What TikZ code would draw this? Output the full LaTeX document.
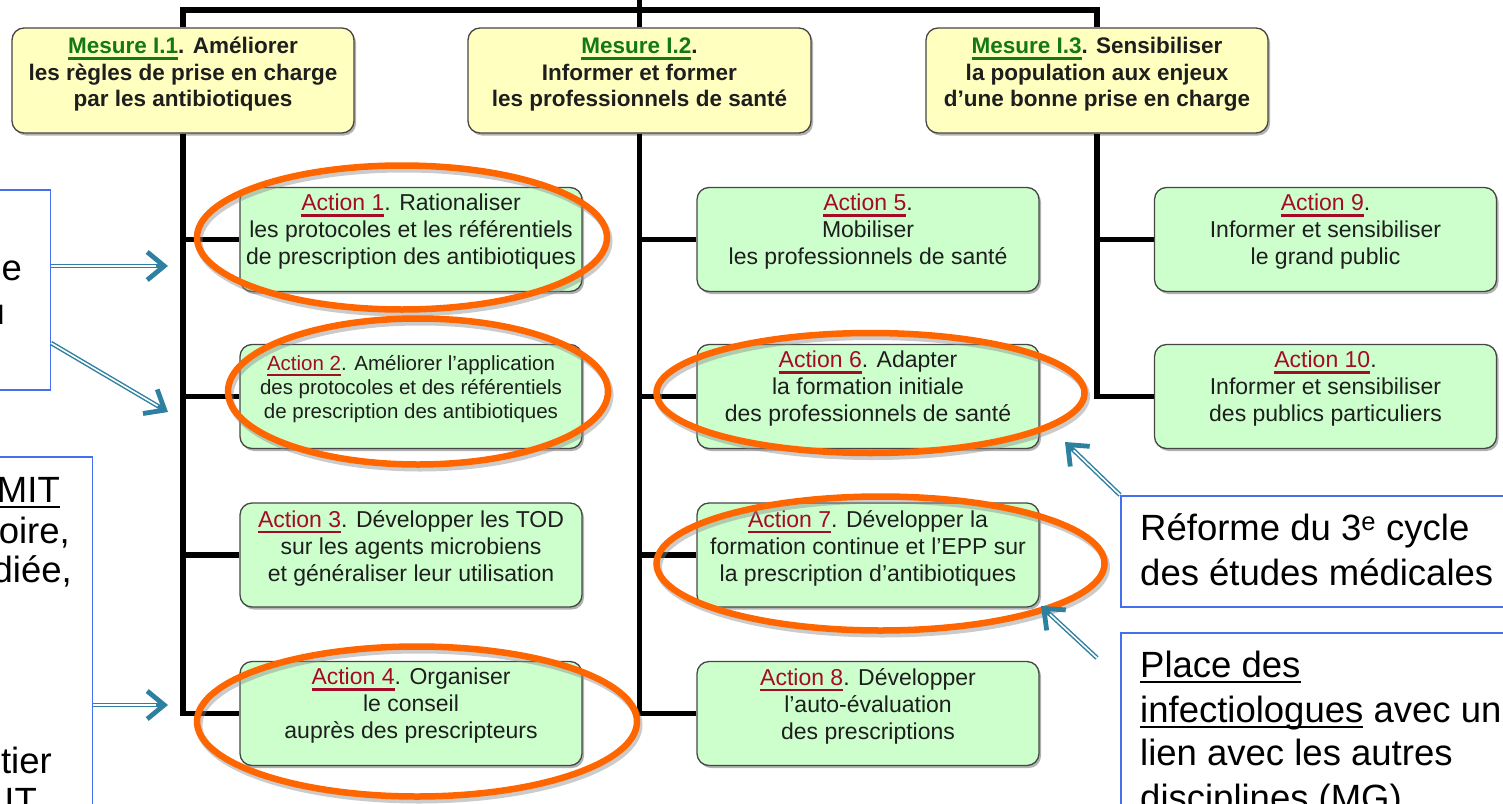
\documentclass[tikz,border=0pt]{standalone}
\usepackage{fontspec}
\setmainfont{Liberation Sans}
\usetikzlibrary{arrows.meta,shadows}
\pgfdeclarelayer{background}
\pgfsetlayers{background,main}
\definecolor{ybox}{RGB}{255,255,192}
\definecolor{gbox}{RGB}{204,255,204}
\definecolor{bordergray}{RGB}{70,70,70}
\definecolor{mgreen}{RGB}{20,120,20}
\definecolor{ared}{RGB}{165,10,40}
\definecolor{orng}{RGB}{255,102,0}
\definecolor{annblue}{RGB}{70,110,240}
\definecolor{arrblue}{RGB}{46,128,160}
\definecolor{txtgray}{RGB}{30,30,30}
\newcommand{\ulbox}[1]{\setbox0\hbox{#1}\rlap{\copy0}\rule[-0.27em]{\wd0}{0.12em}}
\newcommand{\ulann}[1]{\setbox0\hbox{#1}\rlap{\copy0}\rule[-0.17em]{\wd0}{0.055em}}
\newcommand{\dblarrow}[2]{\draw[dblouter] (#1) -- (#2);\draw[dblinner] (#1) -- (#2);}
\tikzset{
  mesbox/.style={draw=bordergray, line width=1.3pt, fill=ybox, rounded corners=12pt,
    minimum width=342pt, minimum height=105pt, inner sep=0pt,
    drop shadow={shadow xshift=2pt, shadow yshift=-2.5pt, fill=black, opacity=0.3}},
  actbox/.style={draw=bordergray, line width=1.3pt, fill=gbox, rounded corners=12pt,
    minimum width=342pt, minimum height=104pt, inner sep=0pt,
    drop shadow={shadow xshift=2pt, shadow yshift=-2.5pt, fill=black, opacity=0.3}},
  mtext/.style={align=center, inner sep=0pt, text=txtgray, font=\bfseries\fontsize{22.5}{26.5}\selectfont},
  atext/.style={align=center, inner sep=0pt, text=txtgray, font=\fontsize{23}{27}\selectfont},
  atextsmall/.style={align=center, inner sep=0pt, text=txtgray, font=\fontsize{20.5}{24}\selectfont},
  tree/.style={line width=5.5pt, black},
  ring/.style={draw=orng, line width=6.5pt},
  ringshadow/.style={draw=black!45, line width=7pt, opacity=0.45},
  annbox/.style={draw=annblue, line width=1.5pt, fill=white, inner sep=0pt},
  anntext/.style={inner sep=0pt, text=black, font=\fontsize{36.5}{45}\selectfont},
  dblouter/.style={draw=arrblue, line width=4.5pt, -{Straight Barb[length=17pt, width=28pt, line width=4.8pt]}},
  dblinner/.style={draw=white, line width=1.6pt, shorten >=12pt},
}
\begin{document}
\begin{tikzpicture}[x=1pt,y=-1pt]
\useasboundingbox (0,0) rectangle (1503,803);
\clip (0,0) rectangle (1503,803);

% Mesures
\node[mesbox] (m1) at (183,80.5) {};
\node[mesbox, minimum width=343pt] (m2) at (639.5,80.5) {};
\node[mesbox] (m3) at (1097,80.5) {};
\node[mtext] (m1t) at (183,74.5) {\textcolor{mgreen}{\ulbox{Mesure I.1}}. Améliorer\\les règles de prise en charge\\par les antibiotiques};
\node[mtext] (m2t) at (639.5,74.5) {\textcolor{mgreen}{\ulbox{Mesure I.2}}.\\Informer et former\\les professionnels de santé};
\node[mtext] (m3t) at (1097,74.5) {\textcolor{mgreen}{\ulbox{Mesure I.3}}. Sensibiliser\\la population aux enjeux\\d’une bonne prise en charge};

% Actions column 1
\node[actbox] (a1) at (411,239.5) {};
\node[actbox] (a2) at (411,396.5) {};
\node[actbox] (a3) at (411,555) {};
\node[actbox] (a4) at (411,713.5) {};
\node[atext] (a1t) at (411,232) {\textcolor{ared}{\ulbox{Action 1}}. Rationaliser\\les protocoles et les référentiels\\de prescription des antibiotiques};
\node[atextsmall] (a2t) at (411,389) {\textcolor{ared}{\ulbox{Action 2}}. Améliorer l’application\\des protocoles et des référentiels\\de prescription des antibiotiques};
\node[atext] (a3t) at (411,548) {\textcolor{ared}{\ulbox{Action 3}}. Développer les TOD\\sur les agents microbiens\\et généraliser leur utilisation};
\node[atext] (a4t) at (411,706) {\textcolor{ared}{\ulbox{Action 4}}. Organiser\\le conseil\\auprès des prescripteurs};

% Actions column 2
\node[actbox] (a5) at (868,239.5) {};
\node[actbox] (a6) at (868,396.5) {};
\node[actbox] (a7) at (868,555) {};
\node[actbox] (a8) at (868,713.5) {};
\node[atext] (a5t) at (868,232) {\textcolor{ared}{\ulbox{Action 5}}.\\Mobiliser\\les professionnels de santé};
\node[atext] (a6t) at (868,389) {\textcolor{ared}{\ulbox{Action 6}}. Adapter\\la formation initiale\\des professionnels de santé};
\node[atext] (a7t) at (868,548) {\textcolor{ared}{\ulbox{Action 7}}. Développer la\\formation continue et l’EPP sur\\la prescription d’antibiotiques};
\node[atext] (a8t) at (868,706) {\textcolor{ared}{\ulbox{Action 8}}. Développer\\l’auto-évaluation\\des prescriptions};

% Actions column 3
\node[actbox] (a9) at (1325.5,239.5) {};
\node[actbox] (a10) at (1325.5,396.5) {};
\node[atext] (a9t) at (1325.5,232) {\textcolor{ared}{\ulbox{Action 9}}.\\Informer et sensibiliser\\le grand public};
\node[atext] (a10t) at (1325.5,389) {\textcolor{ared}{\ulbox{Action 10}}.\\Informer et sensibiliser\\des publics particuliers};

% Tree
\coordinate (up) at (639.5,-10);
\coordinate (hb) at (639.5,10);
\begin{pgfonlayer}{background}
\draw[tree] (m2.north) -- (up);
\draw[tree] (m1.north) |- (hb) -| (m3.north);
\draw[tree] (a4.west) -| (m1.south);
\draw[tree] (a1.west) -- (a1.west -| m1.south);
\draw[tree] (a2.west) -- (a2.west -| m1.south);
\draw[tree] (a3.west) -- (a3.west -| m1.south);
\draw[tree] (a8.west) -| (m2.south);
\draw[tree] (a5.west) -- (a5.west -| m2.south);
\draw[tree] (a6.west) -- (a6.west -| m2.south);
\draw[tree] (a7.west) -- (a7.west -| m2.south);
\draw[tree] (a10.west) -| (m3.south);
\draw[tree] (a9.west) -- (a9.west -| m3.south);
\end{pgfonlayer}

% Orange rings
\draw[ringshadow] (404,241) ellipse [x radius=205, y radius=72];
\draw[ring] (402,237.5) ellipse [x radius=205, y radius=72];
\draw[ringshadow] (420,395) ellipse [x radius=190, y radius=73];
\draw[ring] (418,391.5) ellipse [x radius=190, y radius=73];
\draw[ringshadow] (419,725) ellipse [x radius=220, y radius=75];
\draw[ring] (417,721.5) ellipse [x radius=220, y radius=75];
\draw[ringshadow] (872.5,396.5) ellipse [x radius=214, y radius=60];
\draw[ring] (870.5,393) ellipse [x radius=214, y radius=60];
\draw[ringshadow] (882.5,567) ellipse [x radius=224, y radius=67];
\draw[ring] (880.5,563.5) ellipse [x radius=224, y radius=67];

% Left annotation boxes
\node[annbox, minimum width=80pt, minimum height=200pt, anchor=north east] (la) at (51,189) {};
\node[anntext, anchor=base east] (lat1) at (22,280) {e};
\node[anntext, anchor=base east] (lat2) at (5,324) {u};
\node[annbox, minimum width=120pt, minimum height=400pt, anchor=north east] (lb) at (93,456) {};
\node[anntext, anchor=base east] (lbt1) at (60,502) {\ulann{MIT}};
\node[anntext, anchor=base east] (lbt2) at (70,543) {oire,};
\node[anntext, anchor=base east] (lbt3) at (72,582) {diée,};
\node[anntext, anchor=base east] (lbt4) at (52,773) {tier};
\node[anntext, anchor=base east] (lbt5) at (37,813) {IT};

% Right annotation boxes
\node[annbox, minimum width=440pt, minimum height=111pt, anchor=north west] (rc) at (1120,495) {};
\node[anntext, anchor=base west] (rct1) at (1140,540) {Réforme du 3\textsuperscript{e} cycle};
\node[anntext, anchor=base west] (rct2) at (1140,585) {des études médicales};
\node[annbox, minimum width=440pt, minimum height=300pt, anchor=north west] (rd) at (1120,632) {};
\node[anntext, anchor=base west] (rdt1) at (1140,677) {\ulann{Place des}};
\node[anntext, anchor=base west] (rdt2) at (1140,722) {\ulann{infectiologues} avec un};
\node[anntext, anchor=base west] (rdt3) at (1140,765) {lien avec les autres};
\node[anntext, anchor=base west] (rdt4) at (1140,810) {disciplines (MG)};

% Arrows
\coordinate (s1) at (51,266);
\coordinate (t1) at (168,266);
\coordinate (s2) at (51,343);
\coordinate (t2) at (168,412);
\coordinate (s3) at (93,705);
\coordinate (t3) at (168,705);
\coordinate (t4) at (1065,442);
\coordinate (s5) at (1097,658);
\coordinate (t5) at (1041,606);
\dblarrow{s1}{t1}
\dblarrow{s2}{t2}
\dblarrow{s3}{t3}
\dblarrow{rc.north west}{t4}
\dblarrow{s5}{t5}
\end{tikzpicture}
\end{document}
